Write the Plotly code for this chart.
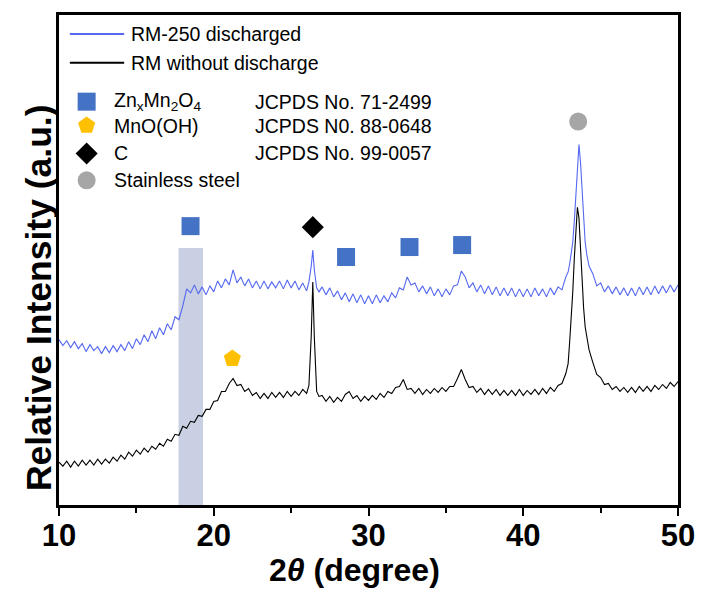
import numpy as np
import plotly.graph_objects as go

# ---- 2theta sampling grid (degrees) ----
two_theta = np.round(np.concatenate([
    np.arange(10.0, 26.01, 0.25),
    [26.15, 26.3, 26.4, 26.5, 26.65, 26.8],
    np.arange(27.0, 42.76, 0.25),
    [42.9, 43.0, 43.1, 43.2, 43.3, 43.4, 43.5, 43.6, 43.7, 43.8, 43.9, 44.0, 44.1, 44.25],
    np.arange(44.5, 50.01, 0.25),
]), 2)

# ---- intensities (a.u.) ----
rm250_discharged = [
    # 10.0 - 26.0
    166, 160, 165, 158, 164, 157, 162, 154, 161, 155, 159, 152, 159, 153, 160, 154,
    161, 155, 164, 157, 167, 161, 171, 164, 175, 167, 178, 171, 182, 176, 189, 186,
    200, 217, 213, 221, 212, 219, 211, 220, 214, 225, 218, 227, 221, 236, 223, 229,
    220, 227, 218, 225, 217, 225, 217, 224, 218, 225, 217, 226, 218, 225, 216, 223, 215,
    # 26.15 - 26.8
    224, 240, 256, 236, 218, 214,
    # 27.0 - 42.75
    219, 211, 218, 209, 215, 206, 213, 204, 212, 203, 211, 202, 210, 202, 211, 203,
    210, 204, 213, 208, 218, 216, 229, 221, 223, 214, 220, 212, 219, 210, 217, 209,
    217, 211, 220, 221, 235, 229, 218, 223, 214, 221, 212, 220, 211, 219, 210, 218,
    210, 218, 209, 217, 209, 217, 209, 218, 210, 217, 209, 218, 211, 219, 216, 229,
    # 42.9 - 44.25
    234, 242, 252, 264, 285, 315, 344, 362, 344, 314, 285, 264, 252, 240,
    # 44.5 - 50.0
    232, 220, 223, 214, 220, 212, 219, 211, 218, 210, 218, 210, 219, 211, 219, 211,
    220, 212, 220, 213, 221, 214, 221,
]

rm_without_discharge = [
    # 10.0 - 26.0
    43, 39, 44, 38, 44, 39, 45, 40, 45, 40, 46, 41, 46, 42, 48, 44,
    50, 46, 53, 49, 55, 51, 57, 53, 59, 56, 62, 59, 66, 64, 71, 70,
    79, 77, 84, 83, 90, 89, 96, 96, 104, 105, 114, 114, 122, 127, 120, 121,
    114, 117, 110, 113, 107, 112, 107, 113, 108, 113, 108, 114, 109, 114, 110, 116, 112,
    # 26.15 - 26.8
    120, 170, 224, 168, 114, 109,
    # 27.0 - 42.75
    110, 104, 109, 103, 108, 104, 111, 114, 107, 110, 104, 109, 105, 110, 106, 112,
    108, 114, 112, 118, 119, 126, 116, 117, 112, 117, 111, 116, 112, 117, 113, 118,
    114, 119, 119, 127, 136, 126, 118, 119, 113, 117, 111, 116, 111, 116, 110, 115,
    110, 115, 110, 116, 110, 115, 111, 116, 111, 117, 112, 118, 114, 120, 122, 132,
    # 42.9 - 44.25
    142, 164, 188, 214, 248, 280, 299, 288, 258, 224, 198, 179, 168, 156,
    # 44.5 - 50.0
    143, 131, 128, 121, 122, 116, 119, 114, 118, 113, 118, 113, 119, 114, 119, 114,
    120, 116, 121, 117, 123, 119, 124,
]

# ---- phase reference markers ----
znmn2o4_x = [18.5, 28.55, 32.65, 36.05]
znmn2o4_y = [280, 249, 259, 261]
mnooh_x = [21.2]
mnooh_y = [147]
carbon_x = [26.4]
carbon_y = [279]
steel_x = [43.55]
steel_y = [385]

band_x = [17.72, 19.31]
band_top = 258

series_names = ["RM-250 discharged", "RM without discharge"]
phase_names = ["Zn<sub>x</sub>Mn<sub>2</sub>O<sub>4</sub>", "MnO(OH)", "C", "Stainless steel"]
jcpds = ["JCPDS No. 71-2499", "JCPDS N0. 88-0648", "JCPDS No. 99-0057"]

BLUE = "#5468f0"
SQ = "#4472c4"
PENT = "#ffc000"
GREY = "#a6a6a6"
FONT = "Liberation Sans, Arial, sans-serif"

fig = go.Figure()

fig.add_shape(type="rect", xref="x", yref="y", x0=band_x[0], x1=band_x[1], y0=0, y1=band_top,
              fillcolor="#c9d0e3", line_width=0, layer="below")

fig.add_trace(go.Scatter(x=two_theta, y=rm_without_discharge, mode="lines",
                         line=dict(color="black", width=1.1), showlegend=False))
fig.add_trace(go.Scatter(x=two_theta, y=rm250_discharged, mode="lines",
                         line=dict(color=BLUE, width=1.1), showlegend=False))

fig.add_trace(go.Scatter(x=znmn2o4_x, y=znmn2o4_y, mode="markers",
                         marker=dict(symbol="square", size=18, color=SQ), showlegend=False))
fig.add_trace(go.Scatter(x=mnooh_x, y=mnooh_y, mode="markers",
                         marker=dict(symbol="pentagon", size=18, color=PENT), showlegend=False))
fig.add_trace(go.Scatter(x=carbon_x, y=carbon_y, mode="markers",
                         marker=dict(symbol="diamond", size=17, color="black"), showlegend=False))
fig.add_trace(go.Scatter(x=steel_x, y=steel_y, mode="markers",
                         marker=dict(symbol="circle", size=18, color=GREY), showlegend=False))

# ---- hand-made legend ----
L = 59
W = 627
def px(x):
    return (x - L) / W
def py(y):
    return (505 - y) / 492

LEG = 19.5
for yy, col, name in [(32, BLUE, series_names[0]), (61, "black", series_names[1])]:
    fig.add_shape(type="line", xref="paper", yref="paper", x0=px(70), x1=px(125),
                  y0=py(yy), y1=py(yy), line=dict(color=col, width=2))
    fig.add_annotation(xref="paper", yref="paper", x=px(130), y=py(yy), text=name,
                       showarrow=False, xanchor="left", yanchor="middle",
                       font=dict(family=FONT, size=LEG, color="black"))

sym_rows = [100, 124, 152, 179]
sym_x = 10 + (87 - L) / (W / 40)
sym_specs = [("square", SQ, 18), ("pentagon", PENT, 18), ("diamond", "black", 17), ("circle", GREY, 18)]
for (sym, col, sz), yy in zip(sym_specs, sym_rows):
    fig.add_trace(go.Scatter(x=[sym_x], y=[505 - yy], mode="markers", cliponaxis=False,
                             marker=dict(symbol=sym, size=sz, color=col), showlegend=False))
for name, yy in zip(phase_names, sym_rows):
    fig.add_annotation(xref="paper", yref="paper", x=px(113), y=py(yy), text=name,
                       showarrow=False, xanchor="left", yanchor="middle",
                       font=dict(family=FONT, size=LEG, color="black"))
for name, yy in zip(jcpds, sym_rows[:3]):
    fig.add_annotation(xref="paper", yref="paper", x=px(256), y=py(yy), text=name,
                       showarrow=False, xanchor="left", yanchor="middle",
                       font=dict(family=FONT, size=LEG, color="black"))

# axis titles
fig.add_annotation(xref="paper", yref="paper", x=px(358), y=py(570),
                   text="<b>2<i>θ</i> (degree)</b>", showarrow=False,
                   xanchor="center", yanchor="middle",
                   font=dict(family=FONT, size=32, color="black"))
fig.add_annotation(xref="paper", yref="paper", x=px(39), y=py(297),
                   text="<b>Relative Intensity (a.u.)</b>", showarrow=False, textangle=-90,
                   xanchor="center", yanchor="middle",
                   font=dict(family=FONT, size=35.5, color="black"))

fig.update_xaxes(range=[10, 50], dtick=10, tick0=10, ticks="outside", ticklen=8, tickwidth=2,
                 tickcolor="black", showline=True, linecolor="black", linewidth=2.5, mirror=True,
                 showgrid=False, zeroline=False, ticklabelstandoff=-7,
                 tickfont=dict(family=FONT, size=31, color="black", weight="bold"),
                 minor=dict(dtick=5, tick0=10, ticks="outside", ticklen=5, tickwidth=2,
                            tickcolor="black", showgrid=False))
fig.update_yaxes(range=[0, 492], showticklabels=False, ticks="", showline=True,
                 linecolor="black", linewidth=2.5, mirror=True, showgrid=False, zeroline=False)

fig.update_layout(width=707, height=592, margin=dict(l=59, r=21, t=13, b=87),
                  plot_bgcolor="white", paper_bgcolor="white", showlegend=False)

fig.write_html("out.html")
